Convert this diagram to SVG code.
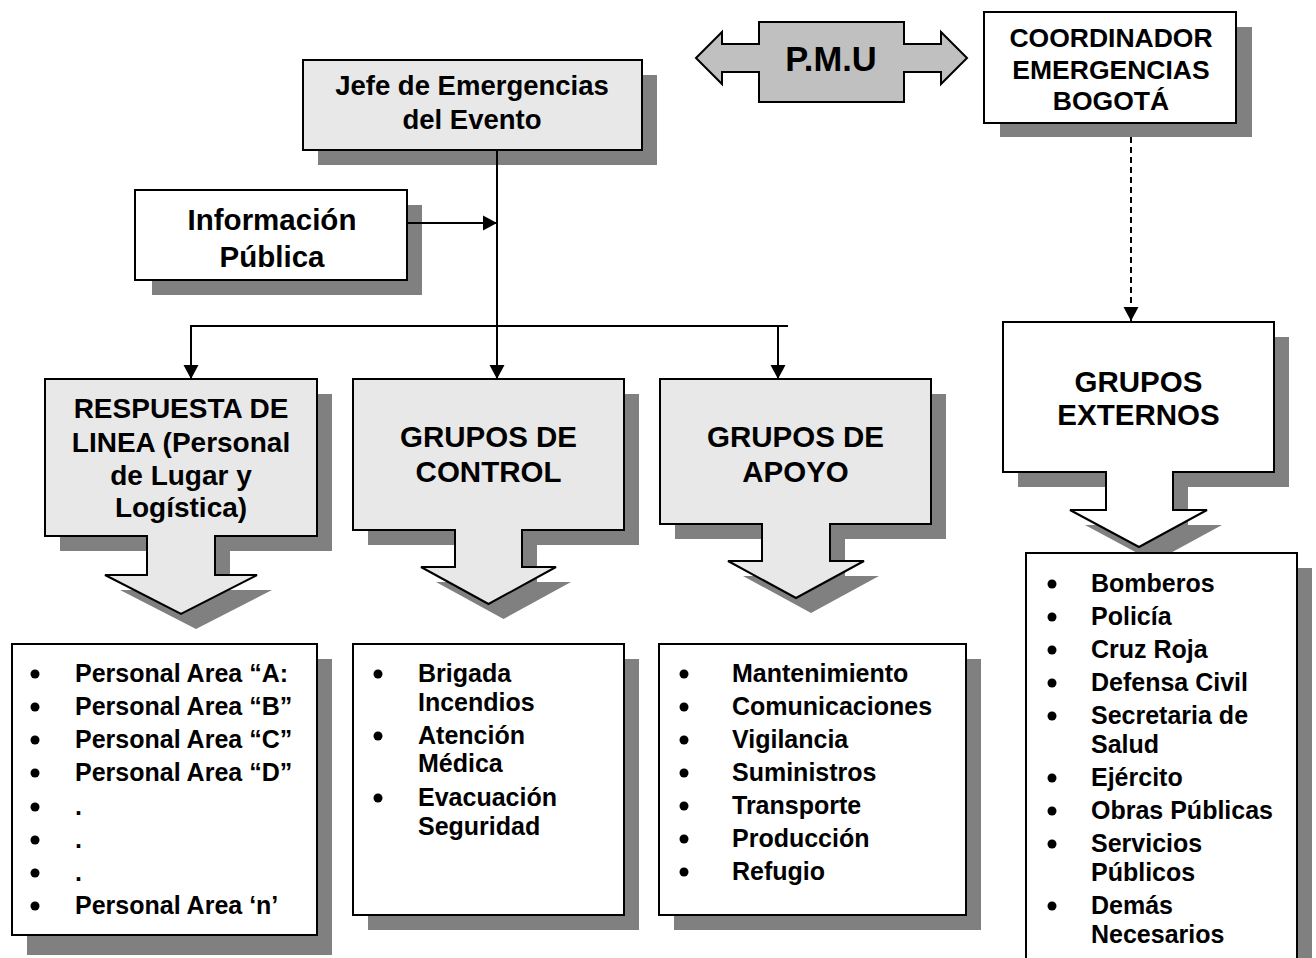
<svg xmlns="http://www.w3.org/2000/svg" width="1316" height="958" viewBox="0 0 1316 958">
<defs>
<style>
.sh{fill:#808080;stroke:none}
.box{stroke:#000;stroke-width:2}
.lg{fill:#e8e8e8}
.wh{fill:#fff}
text{font-family:"Liberation Sans",Arial,sans-serif;font-weight:bold;fill:#000}
.hd{font-size:29.5px;text-anchor:middle}
.li{font-size:25px}
.ln{stroke:#000;stroke-width:2;fill:none}
.bu{fill:#000}
</style>
<marker id="ah" markerUnits="userSpaceOnUse" markerWidth="16" markerHeight="16" refX="14" refY="8" orient="auto">
<path d="M0,0.5 L14,8 L0,15.5 Z" fill="#000"/>
</marker>
</defs>
<rect width="1316" height="958" fill="#fff"/>

<g id="pmu">
<path class="box" fill="#c0c0c0" d="M696,58 L722,32 V44 H759 V22 H904 V44 H941 V32 L967,58 L941,84 V72 H904 V102 H759 V72 H722 V84 Z"/>
<text x="831" y="71" text-anchor="middle" font-size="34.5">P.M.U</text>
</g>

<g id="coordinador">
<rect class="sh" x="1000" y="27" width="252" height="110"/>
<rect class="box wh" x="984" y="12" width="252" height="111"/>
<text x="1111" y="47" text-anchor="middle" font-size="26.5">COORDINADOR</text>
<text x="1111" y="79" text-anchor="middle" font-size="26.5">EMERGENCIAS</text>
<text x="1111" y="110" text-anchor="middle" font-size="26.5">BOGOTÁ</text>
</g>

<g id="jefe">
<rect class="sh" x="318" y="75" width="339" height="90"/>
<rect class="box lg" x="303" y="60" width="339" height="90"/>
<text x="472" y="95" text-anchor="middle" font-size="27.5">Jefe de Emergencias</text>
<text x="472" y="129" text-anchor="middle" font-size="27.5">del Evento</text>
</g>

<g id="informacion">
<rect class="sh" x="152" y="205" width="270" height="90"/>
<rect class="box wh" x="135" y="190" width="272" height="90"/>
<text x="272" y="230" text-anchor="middle" font-size="29.5">Información</text>
<text x="272" y="267" text-anchor="middle" font-size="29.5">Pública</text>
</g>

<g id="connectors">
<line class="ln" x1="497" y1="150" x2="497" y2="379" marker-end="url(#ah)"/>
<line class="ln" x1="407" y1="223" x2="497" y2="223" marker-end="url(#ah)"/>
<line class="ln" x1="190" y1="326" x2="788" y2="326"/>
<line class="ln" x1="191" y1="326" x2="191" y2="379" marker-end="url(#ah)"/>
<line class="ln" x1="778" y1="326" x2="778" y2="379" marker-end="url(#ah)"/>
<line class="ln" x1="1131" y1="137" x2="1131" y2="321" stroke-dasharray="6,4" marker-end="url(#ah)"/>
</g>

<g id="respuesta">
<path class="sh" transform="translate(15,15)" d="M45,379 H317 V536 H215 V575 H257 L181,614 L105,575 H147 V536 H45 Z"/>
<path class="box lg" d="M45,379 H317 V536 H215 V575 H257 L181,614 L105,575 H147 V536 H45 Z"/>
<text class="hd" x="181" y="418" style="font-size:28px">RESPUESTA DE</text>
<text class="hd" x="181" y="452" style="font-size:28px">LINEA (Personal</text>
<text class="hd" x="181" y="485" style="font-size:28px">de Lugar y</text>
<text class="hd" x="181" y="517" style="font-size:28px">Logística)</text>
</g>

<g id="control">
<path class="sh" transform="translate(15,15)" d="M353,379 H624 V530 H522 V567 H556 L488.5,604 L421,567 H455 V530 H353 Z"/>
<path class="box lg" d="M353,379 H624 V530 H522 V567 H556 L488.5,604 L421,567 H455 V530 H353 Z"/>
<text class="hd" x="488.5" y="447">GRUPOS DE</text>
<text class="hd" x="488.5" y="482">CONTROL</text>
</g>

<g id="apoyo">
<path class="sh" transform="translate(15,15)" d="M660,379 H931 V524 H830 V561 H864 L796,598 L728,561 H762 V524 H660 Z"/>
<path class="box lg" d="M660,379 H931 V524 H830 V561 H864 L796,598 L728,561 H762 V524 H660 Z"/>
<text class="hd" x="795.5" y="447">GRUPOS DE</text>
<text class="hd" x="795.5" y="482">APOYO</text>
</g>

<g id="externos">
<path class="sh" transform="translate(15,15)" d="M1003,322 H1274 V472 H1173 V510 H1207 L1139,547 L1070,510 H1106 V472 H1003 Z"/>
<path class="box wh" d="M1003,322 H1274 V472 H1173 V510 H1207 L1139,547 L1070,510 H1106 V472 H1003 Z"/>
<text class="hd" x="1138.5" y="392">GRUPOS</text>
<text class="hd" x="1138.5" y="425">EXTERNOS</text>
</g>

<g id="lista-respuesta">
<rect class="sh" x="27" y="659" width="305" height="296"/>
<rect class="box wh" x="12" y="644" width="305" height="291"/>
<circle class="bu" cx="35" cy="674" r="4.5"/>
<circle class="bu" cx="35" cy="707" r="4.5"/>
<circle class="bu" cx="35" cy="740" r="4.5"/>
<circle class="bu" cx="35" cy="773" r="4.5"/>
<circle class="bu" cx="35" cy="807" r="4.5"/>
<circle class="bu" cx="35" cy="840" r="4.5"/>
<circle class="bu" cx="35" cy="873" r="4.5"/>
<circle class="bu" cx="35" cy="906" r="4.5"/>
<text class="li" x="75" y="682">Personal Area “A:</text>
<text class="li" x="75" y="715">Personal Area “B”</text>
<text class="li" x="75" y="748">Personal Area “C”</text>
<text class="li" x="75" y="781">Personal Area “D”</text>
<text class="li" x="75" y="815">.</text>
<text class="li" x="75" y="848">.</text>
<text class="li" x="75" y="881">.</text>
<text class="li" x="75" y="914">Personal Area ‘n’</text>
</g>

<g id="lista-control">
<rect class="sh" x="368" y="659" width="271" height="271"/>
<rect class="box wh" x="353" y="644" width="271" height="271"/>
<circle class="bu" cx="378" cy="674" r="4.5"/>
<circle class="bu" cx="378" cy="736" r="4.5"/>
<circle class="bu" cx="378" cy="798" r="4.5"/>
<text class="li" x="418" y="682">Brigada</text>
<text class="li" x="418" y="711">Incendios</text>
<text class="li" x="418" y="744">Atención</text>
<text class="li" x="418" y="772">Médica</text>
<text class="li" x="418" y="806">Evacuación</text>
<text class="li" x="418" y="835">Seguridad</text>
</g>

<g id="lista-apoyo">
<rect class="sh" x="674" y="659" width="307" height="271"/>
<rect class="box wh" x="659" y="644" width="307" height="271"/>
<circle class="bu" cx="684" cy="674" r="4.5"/>
<circle class="bu" cx="684" cy="707" r="4.5"/>
<circle class="bu" cx="684" cy="740" r="4.5"/>
<circle class="bu" cx="684" cy="773" r="4.5"/>
<circle class="bu" cx="684" cy="806" r="4.5"/>
<circle class="bu" cx="684" cy="839" r="4.5"/>
<circle class="bu" cx="684" cy="872" r="4.5"/>
<text class="li" x="732" y="682">Mantenimiento</text>
<text class="li" x="732" y="715">Comunicaciones</text>
<text class="li" x="732" y="748">Vigilancia</text>
<text class="li" x="732" y="781">Suministros</text>
<text class="li" x="732" y="814">Transporte</text>
<text class="li" x="732" y="847">Producción</text>
<text class="li" x="732" y="880">Refugio</text>
</g>

<g id="lista-externos">
<rect class="sh" x="1041" y="568" width="271" height="400"/>
<rect class="box wh" x="1026" y="553" width="271" height="420"/>
<circle class="bu" cx="1052" cy="584" r="4.5"/>
<circle class="bu" cx="1052" cy="617" r="4.5"/>
<circle class="bu" cx="1052" cy="650" r="4.5"/>
<circle class="bu" cx="1052" cy="683" r="4.5"/>
<circle class="bu" cx="1052" cy="716" r="4.5"/>
<circle class="bu" cx="1052" cy="778" r="4.5"/>
<circle class="bu" cx="1052" cy="811" r="4.5"/>
<circle class="bu" cx="1052" cy="844" r="4.5"/>
<circle class="bu" cx="1052" cy="906" r="4.5"/>
<text class="li" x="1091" y="592">Bomberos</text>
<text class="li" x="1091" y="625">Policía</text>
<text class="li" x="1091" y="658">Cruz Roja</text>
<text class="li" x="1091" y="691">Defensa Civil</text>
<text class="li" x="1091" y="724">Secretaria de</text>
<text class="li" x="1091" y="753">Salud</text>
<text class="li" x="1091" y="786">Ejército</text>
<text class="li" x="1091" y="819">Obras Públicas</text>
<text class="li" x="1091" y="852">Servicios</text>
<text class="li" x="1091" y="881">Públicos</text>
<text class="li" x="1091" y="914">Demás</text>
<text class="li" x="1091" y="943">Necesarios</text>
</g>
</svg>
